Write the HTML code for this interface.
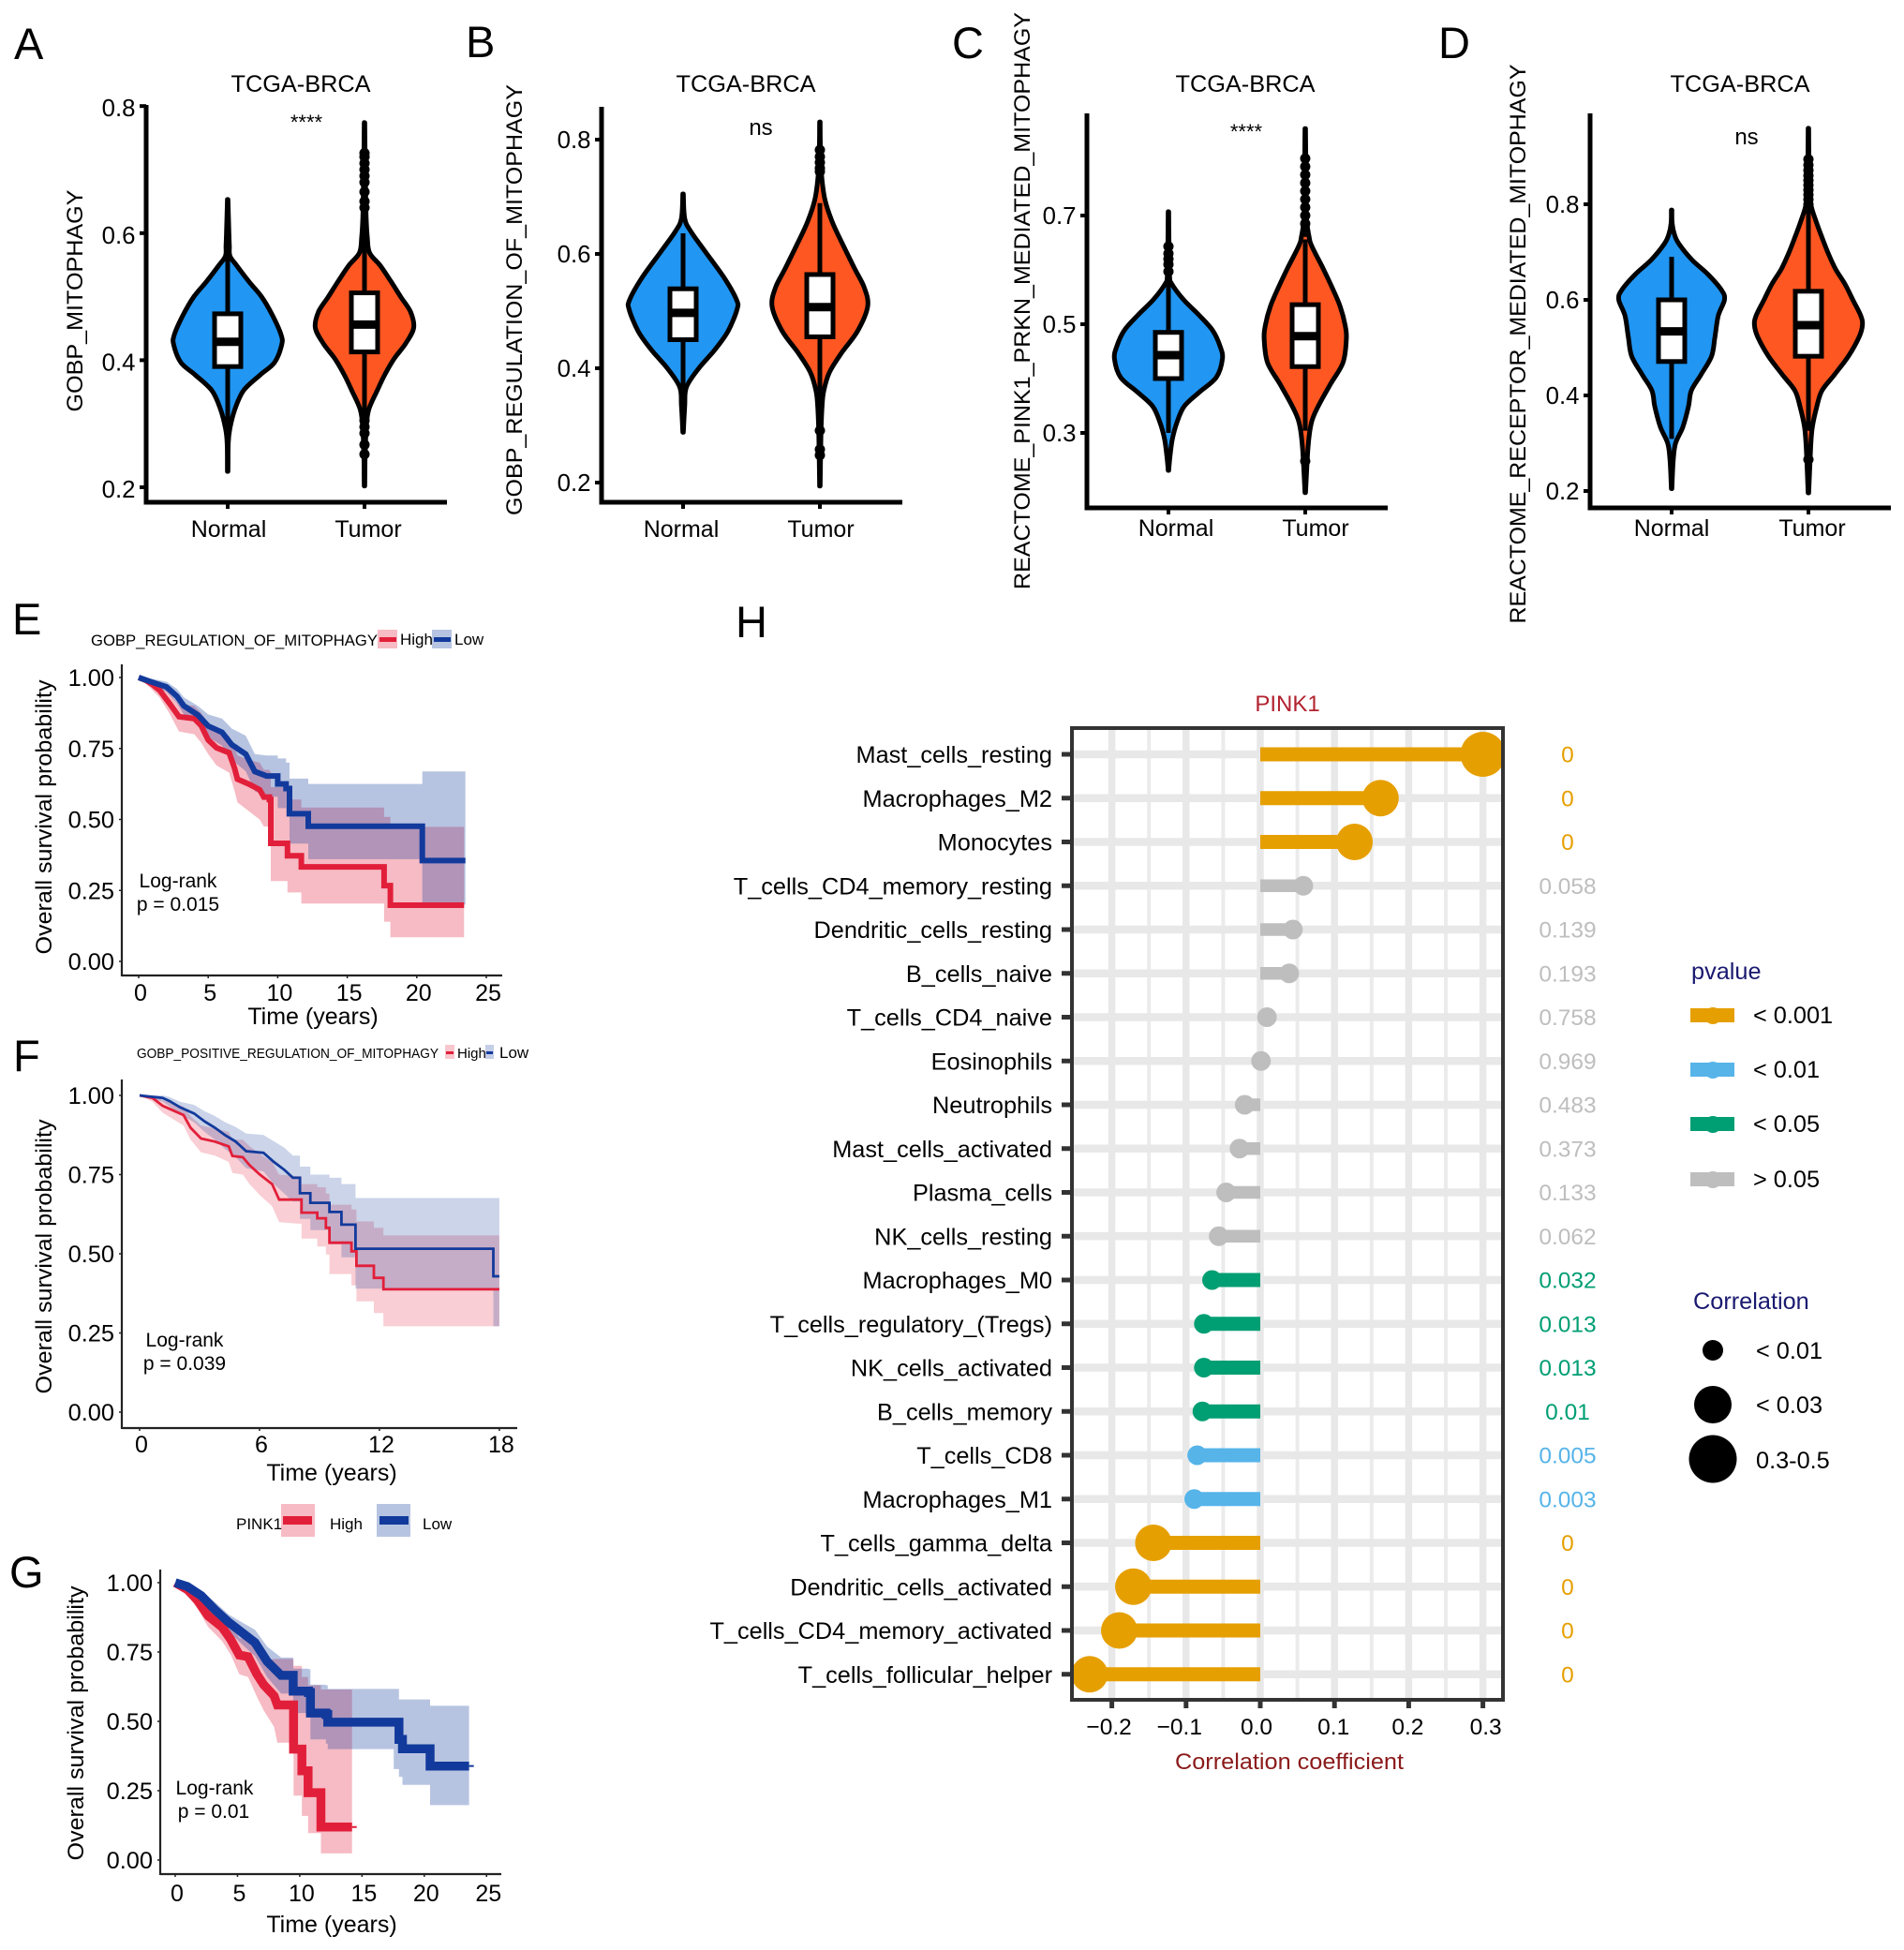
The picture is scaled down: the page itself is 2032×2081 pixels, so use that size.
<!DOCTYPE html>
<html lang="en">
<head>
<meta charset="utf-8">
<title>Mitophagy figure panels A-H</title>
<style>
html,body{margin:0;padding:0;background:#fff;}
svg{display:block;}
text{font-family:"Liberation Sans",sans-serif;fill:#000;}
.letter{font-size:47px;}
.t24{font-size:24px;}
.t25{font-size:25.3px;}
</style>
</head>
<body>
<svg id="figure" xmlns="http://www.w3.org/2000/svg" width="2032" height="2081" viewBox="0 0 2032 2081">
<rect width="2032" height="2081" fill="#fff"/>
<defs><clipPath id="h-clip"><rect x="1144" y="777" width="460" height="1037"/></clipPath></defs>

<!-- panel letters -->
<text class="letter" x="15" y="63">A</text>
<text class="letter" x="497" y="61">B</text>
<text class="letter" x="1016" y="62">C</text>
<text class="letter" x="1535" y="62">D</text>
<text class="letter" x="13" y="677">E</text>
<text class="letter" x="14" y="1143">F</text>
<text class="letter" x="10" y="1694">G</text>
<text class="letter" x="785" y="680">H</text>

<!-- violin panels -->
<g id="panel-a">
<text class="t25" x="321" y="98" text-anchor="middle">TCGA-BRCA</text>
<text class="t24" text-anchor="middle" transform="translate(88,321) rotate(-90)" textLength="237" lengthAdjust="spacingAndGlyphs">GOBP_MITOPHAGY</text>
<text x="327" y="138" text-anchor="middle" font-size="22">****</text>
</g>
<g id="panel-b">
<text class="t25" x="796" y="98" text-anchor="middle">TCGA-BRCA</text>
<text class="t24" text-anchor="middle" transform="translate(557,320) rotate(-90)" textLength="460" lengthAdjust="spacingAndGlyphs">GOBP_REGULATION_OF_MITOPHAGY</text>
<text class="t24" x="812" y="144" text-anchor="middle">ns</text>
</g>
<g id="panel-c">
<text class="t25" x="1329" y="98" text-anchor="middle">TCGA-BRCA</text>
<text class="t24" text-anchor="middle" transform="translate(1099,321) rotate(-90)" textLength="616" lengthAdjust="spacingAndGlyphs">REACTOME_PINK1_PRKN_MEDIATED_MITOPHAGY</text>
<text x="1330" y="148" text-anchor="middle" font-size="22">****</text>
</g>
<g id="panel-d">
<text class="t25" x="1857" y="98" text-anchor="middle">TCGA-BRCA</text>
<text class="t24" text-anchor="middle" transform="translate(1628,367) rotate(-90)" textLength="597" lengthAdjust="spacingAndGlyphs">REACTOME_RECEPTOR_MEDIATED_MITOPHAGY</text>
<text class="t24" x="1864" y="154" text-anchor="middle">ns</text>
</g>

<!-- survival panels -->
<g id="panel-e">
<text x="97" y="689" font-size="17" textLength="306" lengthAdjust="spacingAndGlyphs">GOBP_REGULATION_OF_MITOPHAGY</text>
<rect x="403" y="672" width="21" height="20" fill="#E21F3A" opacity=".3"/>
<rect x="405" y="680" width="18" height="5" fill="#E21F3A"/>
<text x="427" y="688" font-size="17">High</text>
<rect x="461" y="672" width="21" height="20" fill="#123A9C" opacity=".3"/>
<rect x="463" y="680" width="18" height="5" fill="#123A9C"/>
<text x="485" y="688" font-size="17">Low</text>
<text class="t24" text-anchor="middle" transform="translate(55,872) rotate(-90)" textLength="293" lengthAdjust="spacingAndGlyphs">Overall survival probability</text>
<text x="334" y="1093" text-anchor="middle" font-size="25">Time (years)</text>
<text x="190" y="947" text-anchor="middle" font-size="21">Log-rank</text>
<text x="190" y="972" text-anchor="middle" font-size="21">p = 0.015</text>
</g>
<g id="panel-f">
<text x="146" y="1129" font-size="15" textLength="322" lengthAdjust="spacingAndGlyphs">GOBP_POSITIVE_REGULATION_OF_MITOPHAGY</text>
<rect x="475" y="1115" width="10" height="15" fill="#E21F3A" opacity=".25"/>
<rect x="476" y="1122" width="8" height="3" fill="#E21F3A"/>
<text x="488" y="1129" font-size="15">High</text>
<rect x="518" y="1115" width="9" height="15" fill="#123A9C" opacity=".25"/>
<rect x="519" y="1122" width="7" height="3" fill="#123A9C"/>
<text x="533" y="1129" font-size="17">Low</text>
<text class="t24" text-anchor="middle" transform="translate(55,1341) rotate(-90)" textLength="293" lengthAdjust="spacingAndGlyphs">Overall survival probability</text>
<text x="354" y="1580" text-anchor="middle" font-size="25">Time (years)</text>
<text x="197" y="1437" text-anchor="middle" font-size="21">Log-rank</text>
<text x="197" y="1462" text-anchor="middle" font-size="21">p = 0.039</text>
</g>
<g id="panel-g">
<text x="252" y="1632" font-size="17">PINK1</text>
<rect x="300" y="1605" width="36" height="35" fill="#E21F3A" opacity=".3"/>
<rect x="302" y="1618" width="31" height="9" fill="#E21F3A"/>
<text x="352" y="1632" font-size="17">High</text>
<rect x="402" y="1605" width="36" height="35" fill="#123A9C" opacity=".3"/>
<rect x="405" y="1618" width="31" height="9" fill="#123A9C"/>
<text x="451" y="1632" font-size="17">Low</text>
<text class="t24" text-anchor="middle" transform="translate(89,1839) rotate(-90)" textLength="293" lengthAdjust="spacingAndGlyphs">Overall survival probability</text>
<text x="354" y="2062" text-anchor="middle" font-size="25">Time (years)</text>
<text x="229" y="1915" text-anchor="middle" font-size="21">Log-rank</text>
<text x="228" y="1940" text-anchor="middle" font-size="21">p = 0.01</text>
</g>

<!-- lollipop panel -->
<g id="panel-h">
<text class="t24" x="1374" y="759" text-anchor="middle" style="fill:#B2222F">PINK1</text>
<text x="1376" y="1888" text-anchor="middle" font-size="24" textLength="244" lengthAdjust="spacingAndGlyphs" style="fill:#8B1A1A">Correlation coefficient</text>
</g>

<!-- panel H legends -->
<g>
<text class="t25" x="1805" y="1045" style="fill:#191970">pvalue</text>
<rect x="1804" y="1076" width="47" height="15" fill="#E69F00"/>
<circle cx="1828" cy="1084" r="9" fill="#E69F00"/>
<text class="t25" x="1871" y="1092">&lt; 0.001</text>
<rect x="1804" y="1134" width="47" height="15" fill="#56B4E9"/>
<circle cx="1828" cy="1142" r="9" fill="#56B4E9"/>
<text class="t25" x="1871" y="1150">&lt; 0.01</text>
<rect x="1804" y="1192" width="47" height="15" fill="#009E73"/>
<circle cx="1828" cy="1200" r="9" fill="#009E73"/>
<text class="t25" x="1871" y="1208">&lt; 0.05</text>
<rect x="1804" y="1251" width="47" height="15" fill="#BEBEBE"/>
<circle cx="1828" cy="1259" r="9" fill="#BEBEBE"/>
<text class="t25" x="1871" y="1267">&gt; 0.05</text>
</g>
<g>
<text class="t25" x="1807" y="1397" style="fill:#191970">Correlation</text>
<circle cx="1828" cy="1441" r="11" fill="#000"/>
<text class="t25" x="1874" y="1450">&lt; 0.01</text>
<circle cx="1828" cy="1499" r="20" fill="#000"/>
<text class="t25" x="1874" y="1508">&lt; 0.03</text>
<circle cx="1828" cy="1557" r="25.5" fill="#000"/>
<text class="t25" x="1874" y="1567">0.3-0.5</text>
</g>
</svg>

<script>
// ---------- Violin data (values top to bottom, relative density) ----------
const violinCategories = ['Normal', 'Tumor'];

const aTicks = [0.2, 0.4, 0.6, 0.8];
const aNormalValues = [.653,.606,.580,.564,.549,.524,.499,.470,.440,.424,.396,.377,.352,.322,.293,.269,.225];
const aNormalDensity = [.005,.02,.03,.04,.16,.375,.61,.80,.95,.96,.83,.58,.28,.125,.04,.01,.005];
const aNormalBox = [.287,.390,.429,.473,.564];
const aNormalOutliers = [];
const aTumorValues = [.774,.726,.666,.624,.594,.569,.549,.524,.499,.476,.451,.426,.402,.377,.352,.322,.293,.245,.202];
const aTumorDensity = [.005,.01,.02,.03,.05,.09,.28,.47,.65,.82,.875,.73,.525,.36,.225,.075,.03,.01,.005];
const aTumorBox = [.311,.413,.456,.506,.624];
const aTumorOutliers = [.726,.72,.71,.70,.69,.68,.665,.65,.64,.305,.295,.285,.267,.252];

const bTicks = [0.2, 0.4, 0.6, 0.8];
const bNormalValues = [.705,.662,.639,.602,.557,.520,.503,.465,.433,.400,.367,.335,.288];
const bNormalDensity = [.005,.03,.14,.41,.74,.95,.96,.80,.57,.28,.06,.03,.005];
const bNormalBox = [.348,.450,.497,.539,.636];
const bNormalOutliers = [];
const bTumorValues = [.831,.782,.738,.695,.656,.618,.574,.541,.508,.465,.426,.393,.361,.335,.288,.194];
const bTumorDensity = [.005,.01,.03,.09,.22,.40,.62,.79,.85,.67,.38,.17,.07,.04,.02,.005];
const bTumorBox = [.335,.455,.507,.564,.689];
const bTumorOutliers = [.782,.77,.76,.75,.744,.291,.258,.248];

const cTicks = [0.3, 0.5, 0.7];
const cNormalValues = [.707,.649,.589,.574,.545,.516,.488,.459,.436,.402,.375,.349,.319,.289,.259,.231];
const cNormalDensity = [.005,.01,.02,.06,.27,.55,.79,.92,.96,.85,.55,.28,.15,.07,.03,.005];
const cNormalBox = [.300,.400,.443,.485,.589];
const cNormalOutliers = [.643,.63,.62,.61,.597];
const cTumorValues = [.860,.800,.700,.660,.643,.602,.567,.533,.498,.471,.429,.390,.349,.319,.274,.190];
const cTumorDensity = [.005,.01,.02,.07,.12,.32,.48,.62,.71,.73,.67,.45,.23,.11,.05,.005];
const cTumorBox = [.304,.422,.478,.536,.656];
const cTumorOutliers = [.805,.79,.775,.76,.745,.73,.715,.70,.685,.67,.248];

const dTicks = [0.2, 0.4, 0.6, 0.8];
const dNormalValues = [.788,.760,.737,.718,.684,.653,.620,.600,.567,.522,.482,.443,.410,.377,.334,.300,.266,.205];
const dNormalDensity = [.005,.01,.05,.125,.36,.65,.89,.94,.83,.77,.71,.52,.35,.30,.20,.07,.03,.005];
const dNormalBox = [.309,.471,.534,.600,.690];
const dNormalOutliers = [];
const dTumorValues = [.959,.890,.830,.796,.763,.731,.698,.665,.633,.600,.567,.547,.522,.482,.443,.410,.377,.334,.292,.196];
const dTumorDensity = [.005,.01,.02,.05,.14,.24,.35,.48,.65,.79,.93,.96,.90,.71,.46,.24,.15,.07,.04,.005];
const dTumorBox = [.326,.482,.547,.618,.794];
const dTumorOutliers = [.894,.882,.871,.86,.85,.84,.83,.82,.81,.80,.266];

// ---------- Survival data ----------
const survivalYTicks = [0, 0.25, 0.5, 0.75, 1];
const survivalYLabels = ['0.00', '0.25', '0.50', '0.75', '1.00'];

const eXTicks = [0, 5, 10, 15, 20, 25];
const eHighTimes = [0,.5,1,1.5,2.2,2.9,4,4.5,5,5.6,6.5,6.9,7.1,7.9,8.7,9,9.4,9.5,10.7,11.7,17.65,18.1,23.4];
const eHighSurv = [1,.99,.975,.955,.91,.862,.855,.83,.78,.752,.735,.68,.642,.625,.605,.579,.57,.416,.372,.333,.267,.198,.198];
const eHighLower = [1,.98,.955,.93,.875,.81,.80,.77,.73,.69,.665,.60,.56,.53,.50,.475,.47,.283,.243,.204,.14,.085,.085];
const eHighUpper = [1,1,.99,.98,.945,.905,.90,.875,.84,.81,.795,.755,.725,.71,.70,.675,.67,.614,.57,.542,.509,.474,.474];
const eLowTimes = [0,1,2,2.75,3.25,4.25,5,6,6.7,7.7,8.35,9.2,10,10.6,10.85,12.2,20.4,23.5];
const eLowSurv = [1,.983,.967,.934,.90,.868,.829,.807,.763,.73,.669,.653,.625,.609,.52,.476,.355,.355];
const eLowLower = [1,.97,.95,.91,.87,.835,.79,.76,.71,.67,.60,.58,.54,.51,.415,.36,.20,.20];
const eLowUpper = [1,.995,.985,.96,.93,.90,.87,.855,.82,.795,.73,.725,.715,.70,.644,.625,.669,.669];

const fXTicks = [0, 6, 12, 18];
const fHighTimes = [0,.64,1.16,2.2,2.55,3.07,3.77,4.46,4.64,5.16,5.5,6.02,6.63,6.98,7.93,8.1,8.89,9.32,9.5,10.6,10.85,11.72,12.2,18];
const fHighSurv = [1,.992,.967,.938,.898,.864,.854,.839,.809,.805,.78,.75,.72,.671,.671,.63,.612,.582,.535,.508,.462,.424,.388,.388];
const fHighLower = [1,.98,.945,.905,.86,.82,.81,.79,.755,.75,.72,.685,.65,.60,.595,.548,.523,.498,.436,.40,.35,.313,.271,.271];
const fHighUpper = [1,1,.985,.965,.935,.905,.895,.885,.86,.86,.84,.815,.79,.75,.745,.72,.71,.69,.655,.64,.602,.582,.558,.558];
const fLowTimes = [0,1.16,1.5,2.03,2.73,3.25,3.77,4.29,4.81,5.33,6.2,6.72,7.24,7.67,8.02,8.54,9.5,10.1,10.8,17.7,18];
const fLowSurv = [1,.992,.982,.962,.943,.918,.898,.874,.854,.824,.819,.79,.765,.74,.691,.661,.632,.592,.516,.429,.429];
const fLowLower = [1,.98,.965,.94,.915,.885,.86,.83,.805,.77,.76,.72,.69,.665,.61,.575,.53,.489,.39,.271,.271];
const fLowUpper = [1,1,.995,.98,.97,.95,.935,.915,.90,.88,.875,.855,.835,.81,.775,.75,.74,.72,.676,.676,.676];

const gXTicks = [0, 5, 10, 15, 20, 25];
const gHighTimes = [0,.97,1.8,2.65,3.76,4.46,5.15,5.85,6.55,7.1,7.94,8.2,9.5,10.17,10.67,11.7,14.2];
const gHighSurv = [1,.975,.936,.88,.84,.795,.739,.733,.671,.632,.592,.559,.40,.322,.243,.119,.119];
const gHighLower = [1,.955,.905,.84,.79,.74,.67,.66,.59,.54,.48,.423,.232,.159,.097,.024,.024];
const gHighUpper = [1,.99,.96,.915,.885,.85,.80,.80,.75,.72,.725,.725,.70,.66,.63,.615,.615];
const gLowTimes = [0,.97,2.1,3.2,4.3,5.43,6.4,7.38,8.5,9.47,10.7,10.86,12.1,12.25,17.55,17.97,18.25,20.47,23.6];
const gLowSurv = [1,.986,.953,.902,.857,.818,.784,.716,.666,.609,.604,.53,.525,.497,.497,.435,.401,.339,.339];
const gLowLower = [1,.975,.935,.875,.825,.775,.735,.66,.60,.53,.52,.435,.42,.40,.328,.30,.271,.198,.198];
const gLowUpper = [1,.995,.97,.93,.885,.855,.83,.77,.73,.69,.688,.632,.63,.617,.617,.579,.579,.556,.556];

// ---------- Lollipop data ----------
const hCategories = ['Mast_cells_resting','Macrophages_M2','Monocytes','T_cells_CD4_memory_resting','Dendritic_cells_resting','B_cells_naive','T_cells_CD4_naive','Eosinophils','Neutrophils','Mast_cells_activated','Plasma_cells','NK_cells_resting','Macrophages_M0','T_cells_regulatory_(Tregs)','NK_cells_activated','B_cells_memory','T_cells_CD8','Macrophages_M1','T_cells_gamma_delta','Dendritic_cells_activated','T_cells_CD4_memory_activated','T_cells_follicular_helper'];
const hCorrelation = [.30,.162,.127,.058,.044,.039,.009,.001,-.021,-.028,-.046,-.056,-.065,-.076,-.076,-.078,-.085,-.089,-.144,-.171,-.19,-.23];
const hPvalues = ['0','0','0','0.058','0.139','0.193','0.758','0.969','0.483','0.373','0.133','0.062','0.032','0.013','0.013','0.01','0.005','0.003','0','0','0','0'];
const hMajorTicks = [-0.2,-0.1,0,0.1,0.2,0.3];
const hTickLabels = ['\u22120.2','\u22120.1','0.0','0.1','0.2','0.3'];
const hMinorGrid = [-0.15,-0.05,0.05,0.15,0.25];

// ---------- Helpers ----------
const NS = 'http://www.w3.org/2000/svg';
function mk(tag, props, parent) {
  const node = document.createElementNS(NS, tag);
  for (const k in props) node.setAttribute(k, props[k]);
  parent.appendChild(node);
  return node;
}
function label(parent, x, y, str, anchor, size, fill) {
  const t = mk('text', {x: x, y: y, 'text-anchor': anchor, 'font-size': size}, parent);
  if (fill) t.style.fill = fill;
  t.textContent = str;
  return t;
}
function smoothSide(pts) {
  let d = '';
  for (let i = 0; i < pts.length - 1; i++) {
    const p0 = pts[Math.max(i - 1, 0)], p1 = pts[i], p2 = pts[i + 1], p3 = pts[Math.min(i + 2, pts.length - 1)];
    const c1 = [p1[0] + (p2[0] - p0[0]) / 6, p1[1] + (p2[1] - p0[1]) / 6];
    const c2 = [p2[0] - (p3[0] - p1[0]) / 6, p2[1] - (p3[1] - p1[1]) / 6];
    d += 'C' + c1[0].toFixed(1) + ' ' + c1[1].toFixed(1) + ' ' + c2[0].toFixed(1) + ' ' + c2[1].toFixed(1) + ' ' + p2[0].toFixed(1) + ' ' + p2[1].toFixed(1);
  }
  return d;
}

// ---------- Violin panels ----------
function drawViolin(g, yScale, cx, values, density, box, outliers, fill) {
  const right = values.map((v, i) => [cx + density[i] * 60, yScale(v)]);
  const left = values.map((v, i) => [cx - density[i] * 60, yScale(v)]).reverse();
  const body = mk('path', {
    d: 'M' + right[0][0] + ' ' + right[0][1] + smoothSide(right) + 'L' + left[0][0] + ' ' + left[0][1] + smoothSide(left) + 'Z',
    fill: fill, stroke: '#000', 'stroke-width': 5, 'stroke-linejoin': 'round'
  }, g);
  
  

  const whisker = mk('line', {x1: cx, x2: cx, y1: yScale(box[4]), y2: yScale(box[0]), stroke: '#000', 'stroke-width': 5}, g);
  
  

  outliers.forEach(o => {
    const dot = mk('circle', {cx: cx, cy: yScale(o), r: 5.5, fill: '#000'}, g);
    
    
  });

  const rect = mk('rect', {x: cx - 14, width: 28, y: yScale(box[3]), height: yScale(box[1]) - yScale(box[3]), fill: '#fff', stroke: '#000', 'stroke-width': 5}, g);
  
  

  const med = mk('line', {x1: cx - 14, x2: cx + 14, y1: yScale(box[2]), y2: yScale(box[2]), stroke: '#000', 'stroke-width': 9}, g);
  
  
}

function drawViolinPanel(id, frame, ticks, normal, tumor) {
  const g = document.getElementById(id);
  const yScale = v => frame.y0 - (v - frame.v0) * frame.k;
  const xScale = i => frame.x0 + i * frame.dx;
  const yAxis = mk('line', {x1: frame.axisX, x2: frame.axisX, y1: frame.top, y2: frame.bottom + 2.5, stroke: '#000', 'stroke-width': 5}, g);
  
  
  const xAxis = mk('line', {x1: frame.axisX - 2.5, x2: frame.right, y1: frame.bottom, y2: frame.bottom, stroke: '#000', 'stroke-width': 5}, g);
  
  

  ticks.forEach(v => {
    const tick = mk('line', {x1: frame.axisX - 7, x2: frame.axisX, y1: yScale(v), y2: yScale(v), stroke: '#000', 'stroke-width': 4}, g);
    
    
    const tl = label(g, frame.axisX - 11.5, yScale(v) + 9 + frame.labelDy, v.toFixed(1), 'end', 25.8);
    
    
  });
  violinCategories.forEach((c, i) => {
    const tick = mk('line', {x1: xScale(i), x2: xScale(i), y1: frame.bottom, y2: frame.bottom + 7, stroke: '#000', 'stroke-width': 4}, g);
    
    
    const tl = label(g, xScale(i) + frame.labelDx[i], frame.labelY, c, 'middle', 25);
    
    
  });
  drawViolin(g, yScale, xScale(0), normal[0], normal[1], normal[2], normal[3], '#2196F3');
  drawViolin(g, yScale, xScale(1), tumor[0], tumor[1], tumor[2], tumor[3], '#FF5722');
}

drawViolinPanel('panel-a', {y0: 520, v0: .2, k: 678, x0: 243, dx: 146, axisX: 156, top: 112, bottom: 536, right: 477, labelY: 573, labelDy: 2, labelDx: [1, 4]},
  aTicks, [aNormalValues, aNormalDensity, aNormalBox, aNormalOutliers], [aTumorValues, aTumorDensity, aTumorBox, aTumorOutliers]);
drawViolinPanel('panel-b', {y0: 515, v0: .2, k: 610, x0: 729, dx: 146, axisX: 642, top: 114, bottom: 536, right: 963, labelY: 573, labelDy: 0, labelDx: [-2, 1]},
  bTicks, [bNormalValues, bNormalDensity, bNormalBox, bNormalOutliers], [bTumorValues, bTumorDensity, bTumorBox, bTumorOutliers]);
drawViolinPanel('panel-c', {y0: 462, v0: .3, k: 580, x0: 1247, dx: 146, axisX: 1160, top: 121, bottom: 542, right: 1481, labelY: 572, labelDy: 0, labelDx: [8, 11]},
  cTicks, [cNormalValues, cNormalDensity, cNormalBox, cNormalOutliers], [cTumorValues, cTumorDensity, cTumorBox, cTumorOutliers]);
drawViolinPanel('panel-d', {y0: 524, v0: .2, k: 510, x0: 1784, dx: 146, axisX: 1697, top: 121, bottom: 542, right: 2018, labelY: 572, labelDy: 0, labelDx: [0, 4]},
  dTicks, [dNormalValues, dNormalDensity, dNormalBox, dNormalOutliers], [dTumorValues, dTumorDensity, dTumorBox, dTumorOutliers]);

// ---------- Survival panels ----------
// Closely spaced early events are joined directly; later events are drawn as steps.
function curvePoints(times, vals, xScale, yScale, smoothUntil) {
  const pts = [[xScale(times[0]), yScale(vals[0])]];
  for (let i = 1; i < times.length; i++) {
    if (times[i] > smoothUntil) pts.push([xScale(times[i]), yScale(vals[i - 1])]);
    pts.push([xScale(times[i]), yScale(vals[i])]);
  }
  return pts;
}
function toPath(pts) {
  return 'M' + pts.map(p => p[0].toFixed(1) + ' ' + p[1].toFixed(1)).join('L');
}
function drawSeries(g, xScale, yScale, times, surv, lower, upper, color, frame) {
  const upperPts = curvePoints(times, upper, xScale, yScale, frame.smoothUntil);
  const lowerPts = curvePoints(times, lower, xScale, yScale, frame.smoothUntil).reverse();
  const band = mk('path', {d: toPath(upperPts.concat(lowerPts)) + 'Z', fill: color, opacity: frame.op}, g);
  
  
  return function () {
    const line = mk('path', {d: toPath(curvePoints(times, surv, xScale, yScale, frame.smoothUntil)), fill: 'none', stroke: color, 'stroke-width': frame.lw, 'stroke-linejoin': 'miter'}, g);
    
    
  };
}
function drawSurvivalPanel(id, frame, xTicks, high, low) {
  const g = document.getElementById(id);
  const xScale = t => frame.x0 + t * frame.xk;
  const yScale = s => frame.y0 - s * frame.yk;
  const drawHigh = drawSeries(g, xScale, yScale, high[0], high[1], high[2], high[3], '#E21F3A', frame);
  const drawLow = drawSeries(g, xScale, yScale, low[0], low[1], low[2], low[3], '#123A9C', frame);
  drawHigh();
  drawLow();
  if (frame.tail) {
    const t1 = mk('line', {x1: xScale(high[0][high[0].length - 1]), x2: xScale(high[0][high[0].length - 1]) + 5, y1: yScale(high[1][high[1].length - 1]), y2: yScale(high[1][high[1].length - 1]), stroke: '#E21F3A', 'stroke-width': 2}, g);
    
    
    const t2 = mk('line', {x1: xScale(low[0][low[0].length - 1]), x2: xScale(low[0][low[0].length - 1]) + 5, y1: yScale(low[1][low[1].length - 1]), y2: yScale(low[1][low[1].length - 1]), stroke: '#123A9C', 'stroke-width': 2}, g);
    
    
  }
  const yAxis = mk('line', {x1: frame.axisX, x2: frame.axisX, y1: frame.top, y2: frame.bottom + 1, stroke: '#222', 'stroke-width': 2.2}, g);
  
  
  const xAxis = mk('line', {x1: frame.axisX, x2: frame.right, y1: frame.bottom, y2: frame.bottom, stroke: '#222', 'stroke-width': 2.2}, g);
  
  
  survivalYTicks.forEach((s, i) => {
    const tick = mk('line', {x1: frame.axisX - 3, x2: frame.axisX, y1: yScale(s), y2: yScale(s), stroke: '#222', 'stroke-width': 1.5}, g);
    
    
    const tl = label(g, frame.axisX - 8, yScale(s) + 9, survivalYLabels[i], 'end', 25.4);
    
    
  });
  xTicks.forEach(t => {
    const tick = mk('line', {x1: xScale(t), x2: xScale(t), y1: frame.bottom, y2: frame.bottom + 3, stroke: '#222', 'stroke-width': 1.5}, g);
    
    
    const tl = label(g, xScale(t) + 2, frame.labelY, String(t), 'middle', 25);
    
    
  });
}
drawSurvivalPanel('panel-e', {x0: 148, xk: 14.84, y0: 1026, yk: 303, axisX: 130, top: 709, bottom: 1041, right: 536, labelY: 1068, lw: 6, op: .3, smoothUntil: 9.3},
  eXTicks, [eHighTimes, eHighSurv, eHighLower, eHighUpper], [eLowTimes, eLowSurv, eLowLower, eLowUpper]);
drawSurvivalPanel('panel-f', {x0: 149, xk: 21.33, y0: 1507, yk: 338, axisX: 130, top: 1152, bottom: 1524, right: 552, labelY: 1550, lw: 2.8, op: .22, smoothUntil: 8},
  fXTicks, [fHighTimes, fHighSurv, fHighLower, fHighUpper], [fLowTimes, fLowSurv, fLowLower, fLowUpper]);
drawSurvivalPanel('panel-g', {x0: 187, xk: 13.29, y0: 1985, yk: 296, axisX: 171, top: 1675, bottom: 2000, right: 535, labelY: 2029, lw: 9.5, op: .3, tail: true, smoothUntil: 9.4},
  gXTicks, [gHighTimes, gHighSurv, gHighLower, gHighUpper], [gLowTimes, gLowSurv, gLowLower, gLowUpper]);

// ---------- Lollipop panel ----------
(function () {
  const g = document.getElementById('panel-h');
  const left = 1144, right = 1604, top = 777, bottom = 1814;
  const xScale = v => 1345 + v * 792;
  const yScale = i => 805 + i * 46.75;
  const pColor = p => { const n = +p; return n < 0.001 ? '#E69F00' : n < 0.01 ? '#56B4E9' : n < 0.05 ? '#009E73' : '#BEBEBE'; };
  const radius = r => { const a = Math.abs(r); return a >= 0.3 ? 24 : a >= 0.1 ? 19.5 : 10.5; };

  const plot = mk('g', {'clip-path': 'url(#h-clip)'}, g);
  
  

  hMinorGrid.forEach(v => {
    const line = mk('line', {x1: xScale(v), x2: xScale(v), y1: top, y2: bottom, stroke: '#EBEBEB', 'stroke-width': 4}, plot);
    
    
  });
  hMajorTicks.forEach(v => {
    const line = mk('line', {x1: xScale(v), x2: xScale(v), y1: top, y2: bottom, stroke: '#E8E8E8', 'stroke-width': 7.5}, plot);
    
    
  });
  hCategories.forEach((c, i) => {
    const line = mk('line', {x1: left, x2: right, y1: yScale(i), y2: yScale(i), stroke: '#E8E8E8', 'stroke-width': 8.5}, plot);
    
    
  });
  hCategories.forEach((c, i) => {
    const r = hCorrelation[i], color = pColor(hPvalues[i]);
    const thick = color === '#BEBEBE' ? 13.5 : 15;
    const bar = mk('rect', {x: Math.min(xScale(0), xScale(r)), width: Math.abs(xScale(r) - xScale(0)), y: yScale(i) - thick / 2, height: thick, fill: color}, plot);
    
    
    const dot = mk('circle', {cx: xScale(r), cy: yScale(i), r: radius(r), fill: color}, plot);
    
    

    const tick = mk('line', {x1: left - 11, x2: left, y1: yScale(i), y2: yScale(i), stroke: '#333', 'stroke-width': 5}, g);
    
    
    const tl = label(g, 1123, yScale(i) + 9, c, 'end', 25.3);
    
    
    const pl = label(g, 1673, yScale(i) + 8.5, hPvalues[i], 'middle', 24.5, color);
    
    
  });
  const frame = mk('rect', {x: left, y: top, width: right - left, height: bottom - top, fill: 'none', stroke: '#333', 'stroke-width': 4}, g);
  
  
  hMajorTicks.forEach((v, i) => {
    const tick = mk('line', {x1: xScale(v), x2: xScale(v), y1: bottom, y2: bottom + 9, stroke: '#333', 'stroke-width': 5}, g);
    
    
    const tl = label(g, xScale(v) - 1 + (i === 0 ? -2 : i === 1 ? -6 : i === 2 ? -3 : 0) + (i === 5 ? 4 : 0), 1851, hTickLabels[i], 'middle', 24.5);
    
    
  });
})();
</script>
</body>
</html>
